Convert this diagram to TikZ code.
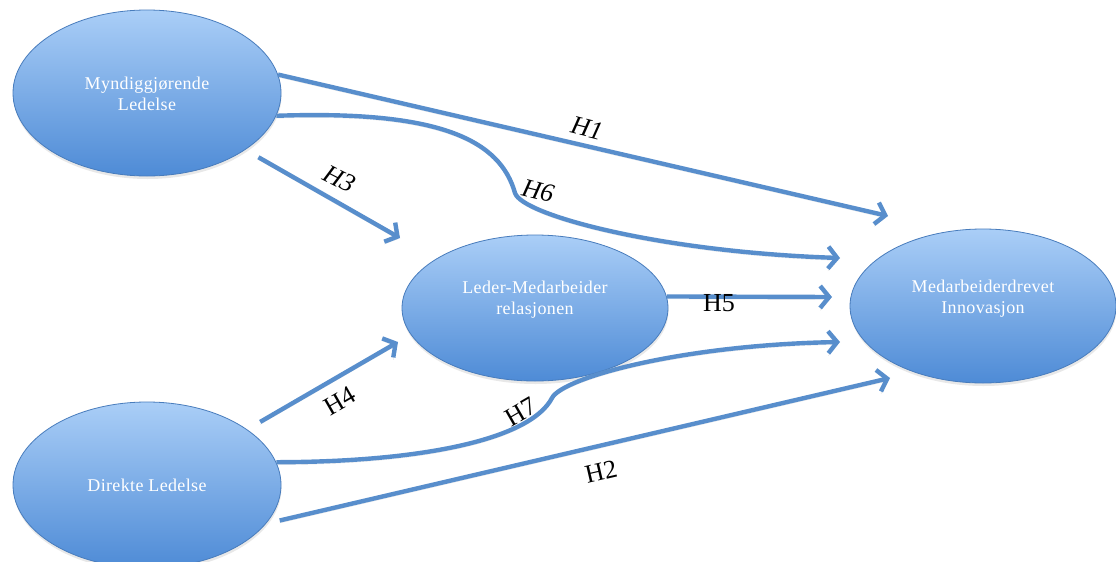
\documentclass[tikz,border=0pt]{standalone}
\usepackage{fontspec}
\setmainfont{Liberation Serif}
\newfontfamily\ovalfont[LetterSpace=2]{Liberation Serif}
\usetikzlibrary{arrows.meta,shapes.geometric,shadows}

\definecolor{linkblue}{RGB}{88,142,204}
\definecolor{ovaltop}{RGB}{170,206,247}
\definecolor{ovalbot}{RGB}{78,139,214}
\definecolor{ovalrim}{RGB}{72,124,188}

\tikzset{
  oval/.style={ellipse, draw=ovalrim, line width=0.8pt,
    top color=ovaltop, bottom color=ovalbot, inner sep=0pt,
    drop shadow={opacity=0.18, shadow xshift=0.5pt, shadow yshift=-3pt}},
  ovaltext/.style={text=white, align=center, inner sep=0pt,
    font=\ovalfont\fontsize{18}{21}\selectfont},
  link/.style={draw=linkblue, line width=4.4pt,
    -{Straight Barb[length=9pt,width=22pt]},
    preaction={draw=black, draw opacity=0.10,
      transform canvas={yshift=-2.5pt}}},
  hyp/.style={inner sep=0pt, font=\fontsize{26}{26}\selectfont},
  hypit/.style={hyp, font=\fontsize{26}{26}\selectfont\itshape},
}

\begin{document}
\begin{tikzpicture}[x=1pt,y=-1pt]
\useasboundingbox (0,0) rectangle (1116,562);
\fill[white] (0,0) rectangle (1116,562);

% the four constructs
\node[oval, minimum width=268pt, minimum height=166pt,
  label={[ovaltext, yshift=-1pt]center:{Myndiggjørende\\Ledelse}}] (ml) at (147,93) {};
\node[oval, minimum width=268pt, minimum height=166pt,
  label={[ovaltext]center:{Direkte Ledelse}}] (dl) at (147,485) {};
\node[oval, minimum width=266pt, minimum height=146pt,
  label={[ovaltext, yshift=8pt]center:{Leder-Medarbeider\\relasjonen}}] (lm) at (535,308) {};
\node[oval, minimum width=266pt, minimum height=154pt,
  label={[ovaltext, yshift=7pt]center:{Medarbeiderdrevet\\Innovasjon}}] (mi) at (983,306) {};

% free ends of the hypothesis arrows
\coordinate (h1e) at (888,216);
\coordinate (h2e) at (890,378);
\coordinate (h3e) at (400,238);
\coordinate (h4e) at (398,342);
\coordinate (h5e) at (832,297);
\coordinate (h6k) at (515,193);
\coordinate (h6e) at (840,258);
\coordinate (h7k) at (552,398);
\coordinate (h7e) at (840,342);

% hypothesis arrows
\draw[link] (ml.8) -- (h1e);
\draw[link, shorten <=14pt] (dl.-18) -- (h2e);
\draw[link, shorten <=15pt] (ml.-30) -- (h3e);
\draw[link, shorten <=15pt] (dl.29) -- (h4e);
\draw[link] (lm.5) -- (h5e);
\draw[link] (ml.-10) .. controls (440,110) and (500,140) .. (h6k)
  .. controls (522,215) and (660,252) .. (h6e);
\draw[link] (dl.10) .. controls (420,462) and (530,440) .. (h7k)
  .. controls (562,378) and (680,345) .. (h7e);

% hypothesis labels
\node[hypit, rotate=-14] (t1) at (587,128) {H1};
\node[hyp, rotate=13] (t2) at (601,472) {H2};
\node[hypit, rotate=-27] (t3) at (340,179) {H3};
\node[hyp, rotate=30] (t4) at (340,401) {H4};
\node[hyp] (t5) at (719,303) {H5};
\node[hypit, rotate=-14] (t6) at (538,191) {H6};
\node[hyp, rotate=30] (t7) at (521,412) {H7};
\end{tikzpicture}
\end{document}
